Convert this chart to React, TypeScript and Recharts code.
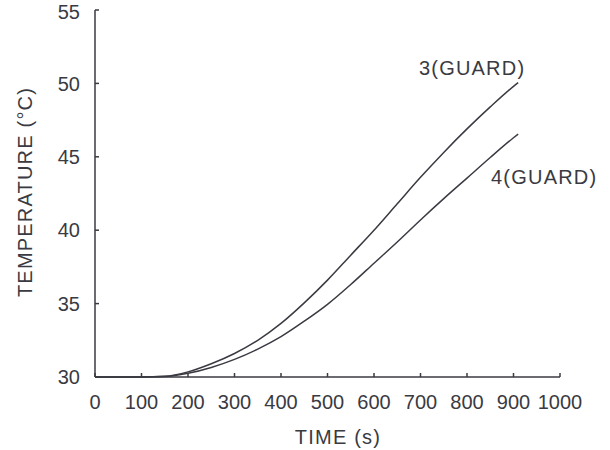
import { LineChart, Line, XAxis, YAxis, ReferenceDot, Label } from 'recharts'

const timeS = [0, 100, 150, 200, 250, 300, 350, 400, 450, 500, 550, 600, 650, 700, 750, 800, 850, 900, 910]
const guard3 = [30, 30, 30.05, 30.35, 30.9, 31.6, 32.5, 33.65, 35.05, 36.6, 38.3, 40.0, 41.8, 43.6, 45.3, 46.9, 48.4, 49.8, 50.05]
const guard4 = [30, 30, 30.03, 30.25, 30.65, 31.2, 31.9, 32.75, 33.8, 34.95, 36.3, 37.75, 39.2, 40.7, 42.15, 43.55, 44.95, 46.3, 46.55]
const xTicks = [0, 100, 200, 300, 400, 500, 600, 700, 800, 900, 1000]
const yTicks = [30, 35, 40, 45, 50, 55]

const data = timeS.map((t, i) => ({ t, g3: guard3[i], g4: guard4[i] }))

const ink = '#3a3a42'
const font = 'Liberation Sans, Arial, sans-serif'
const tickStyle = { fontSize: 20, fill: ink, fontFamily: font }
const textStyle = { fontSize: 20, fill: ink, fontFamily: font, letterSpacing: 1.2 }

export default function App() {
  return (
    <div style={{ position: 'absolute', left: 0, top: 0, background: '#fff' }}>
      <LineChart width={610} height={450} data={data} margin={{ top: 10, right: 50, left: 0, bottom: 0 }}>
        <XAxis
          dataKey="t"
          type="number"
          domain={[0, 1000]}
          ticks={xTicks}
          height={73}
          tickSize={-4}
          tickMargin={22}
          tick={tickStyle}
          stroke={ink}
          strokeWidth={1.5}
        >
          <Label
            content={() => (
              <text x={338} y={444} textAnchor="middle" {...textStyle}>
                TIME (s)
              </text>
            )}
          />
        </XAxis>
        <YAxis
          type="number"
          domain={[30, 55]}
          ticks={yTicks}
          width={95}
          tickSize={-4}
          tickMargin={19}
          tick={tickStyle}
          stroke={ink}
          strokeWidth={1.5}
        >
          <Label
            content={() => (
              <text
                x={25}
                y={192}
                transform="rotate(-90 25 192)"
                textAnchor="middle"
                dominantBaseline="central"
                {...textStyle}
              >
                TEMPERATURE (°C)
              </text>
            )}
          />
        </YAxis>
        <Line type="monotone" dataKey="g3" stroke={ink} strokeWidth={1.5} dot={false} isAnimationActive={false} />
        <Line type="monotone" dataKey="g4" stroke={ink} strokeWidth={1.5} dot={false} isAnimationActive={false} />
        <ReferenceDot
          x={811}
          y={51.05}
          r={0}
          label={{ value: '3(GUARD)', position: 'center', ...textStyle }}
        />
        <ReferenceDot
          x={966}
          y={43.64}
          r={0}
          ifOverflow="visible"
          label={{ value: '4(GUARD)', position: 'center', ...textStyle }}
        />
      </LineChart>
    </div>
  )
}
